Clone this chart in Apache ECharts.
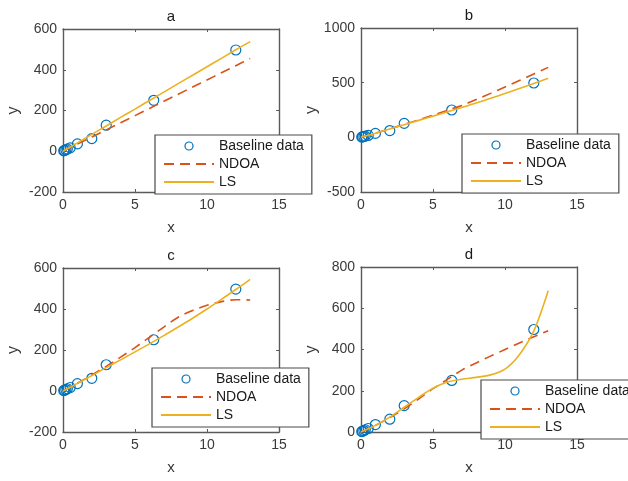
<!DOCTYPE html>
<html>
<head>
<meta charset="utf-8">
<script src="https://cdn.jsdelivr.net/npm/echarts@6/dist/echarts.min.js"></script>
<style>
  html, body { margin: 0; padding: 0; background: #ffffff; }
  #chart { width: 628px; height: 481px; }
</style>
</head>
<body>
<div id="chart"></div>
<script>
// Baseline measurements (same in all four panels)
const baseX = [0.05, 0.1, 0.2, 0.3, 0.5, 1, 2, 3, 6.3, 12];
const baseY = [2, 4, 7, 11, 17, 36, 62, 128, 250, 497];

// x positions at which the fitted curves are sampled
const fitX = [0, 1, 2, 3, 4, 5, 6, 7, 8, 9, 10, 11, 12, 13];

// Panel a
const ndoaA = [0, 35, 70, 105, 140, 175, 210, 245, 280, 315, 350, 385, 420, 455];
const lsA   = [0, 41, 83, 124, 166, 207, 249, 290, 332, 373, 415, 456, 498, 538];
// Panel b
const ndoaB = [0, 38, 78, 118, 160, 203, 247, 292, 345, 402, 460, 520, 580, 640];
const lsB   = [0, 38, 77, 116, 155, 194, 233, 272, 314, 357, 401, 446, 493, 540];
// Panel c
const ndoaC = [0, 38, 78, 120, 165, 212, 262, 312, 360, 393, 418, 436, 445, 444];
const lsC   = [0, 37, 75, 114, 152, 191, 230, 270, 312, 355, 400, 447, 495, 545];
// Panel d
const ndoaD = [0, 32, 70, 112, 160, 210, 255, 300, 335, 368, 400, 432, 462, 491];
const lsD   = [0, 32, 72, 120, 168, 212, 242, 256, 265, 277, 305, 375, 490, 685];

const panelTitles = ['a', 'b', 'c', 'd'];
const yMins = [-200, -500, -200, 0];
const yMaxs = [600, 1000, 600, 800];
const yIntervals = [200, 500, 200, 200];
const xMin = 0, xMax = 15, xInterval = 5;

const ndoaSets = [ndoaA, ndoaB, ndoaC, ndoaD];
const lsSets = [lsA, lsB, lsC, lsD];

const FONT = '"Liberation Sans", Arial, Helvetica, sans-serif';
const AXIS_COLOR = '#5a5a5a';
const TEXT_COLOR = '#3a3a3a';

const grids = [
  { left: 63,  top: 29,  width: 216, height: 163 },
  { left: 361, top: 28,  width: 216, height: 164 },
  { left: 63,  top: 268, width: 216, height: 164 },
  { left: 361, top: 267, width: 216, height: 165 }
];
const legendPos = [
  { left: 155, top: 135 },
  { left: 462, top: 134 },
  { left: 152, top: 368 },
  { left: 481, top: 380 }
];

const pairs = (xs, ys) => xs.map((x, i) => [x, ys[i]]);

const axisLineStyle = { show: true, onZero: false, lineStyle: { color: AXIS_COLOR, width: 1.4 } };
const tickStyle = { show: true, inside: true, length: 3, lineStyle: { color: AXIS_COLOR, width: 1 } };
const plainNumber = v => String(v);

const xAxes = [], yAxes = [], series = [], legends = [];

grids.forEach((g, i) => {
  // bottom x axis with tick labels and name
  xAxes.push({
    type: 'value', gridIndex: i, position: 'bottom',
    min: xMin, max: xMax, interval: xInterval,
    axisLine: axisLineStyle, axisTick: tickStyle, splitLine: { show: false },
    axisLabel: { fontSize: 14, color: TEXT_COLOR, fontFamily: FONT, margin: 6,
                 showMinLabel: true, showMaxLabel: true, formatter: plainNumber },
    name: 'x', nameLocation: 'middle', nameGap: 28,
    nameTextStyle: { fontSize: 15, color: TEXT_COLOR, fontFamily: FONT }
  });
  // top x axis: box edge with ticks, carries the panel title
  xAxes.push({
    type: 'value', gridIndex: i, position: 'top',
    min: xMin, max: xMax, interval: xInterval,
    axisLine: axisLineStyle, axisTick: tickStyle, splitLine: { show: false },
    axisLabel: { show: false },
    name: panelTitles[i], nameLocation: 'middle', nameGap: 5,
    nameTextStyle: { fontSize: 15, color: '#1a1a1a', fontFamily: FONT }
  });
  // left y axis
  yAxes.push({
    type: 'value', gridIndex: i, position: 'left',
    min: yMins[i], max: yMaxs[i], interval: yIntervals[i],
    axisLine: axisLineStyle, axisTick: tickStyle, splitLine: { show: false },
    axisLabel: { fontSize: 14, color: TEXT_COLOR, fontFamily: FONT, margin: 6,
                 showMinLabel: true, showMaxLabel: true, formatter: plainNumber },
    name: 'y', nameLocation: 'middle', nameGap: 41,
    nameTextStyle: { fontSize: 16, color: TEXT_COLOR, fontFamily: FONT }
  });
  // right y axis: box edge with ticks
  yAxes.push({
    type: 'value', gridIndex: i, position: 'right',
    min: yMins[i], max: yMaxs[i], interval: yIntervals[i],
    axisLine: axisLineStyle, axisTick: tickStyle, splitLine: { show: false },
    axisLabel: { show: false }
  });

  // hollow circle markers, no connecting line
  series.push({
    name: 'Baseline data', type: 'line',
    xAxisIndex: 2 * i, yAxisIndex: 2 * i,
    data: pairs(baseX, baseY),
    symbol: 'circle', symbolSize: 10,
    itemStyle: { color: 'rgba(255,255,255,0)', borderColor: '#0072BD', borderWidth: 1.2 },
    lineStyle: { width: 0, opacity: 0 },
    animation: false, z: 2
  });
  series.push({
    name: 'NDOA', type: 'line',
    xAxisIndex: 2 * i, yAxisIndex: 2 * i,
    data: pairs(fitX, ndoaSets[i]),
    symbol: 'none', smooth: 0.3,
    itemStyle: { color: '#D95319' },
    lineStyle: { color: '#D95319', width: 1.6, type: [10, 6] },
    animation: false, z: 3
  });
  series.push({
    name: 'LS', type: 'line',
    xAxisIndex: 2 * i, yAxisIndex: 2 * i,
    data: pairs(fitX, lsSets[i]),
    symbol: 'none', smooth: 0.3,
    itemStyle: { color: '#EDB120' },
    lineStyle: { color: '#EDB120', width: 1.6 },
    animation: false, z: 4
  });

  legends.push({
    orient: 'vertical', left: legendPos[i].left, top: legendPos[i].top,
    data: [
      { name: 'Baseline data', itemStyle: { borderWidth: 1.2, borderColor: '#0072BD', color: 'rgba(255,255,255,0)' } },
      { name: 'NDOA', itemStyle: { opacity: 0 } },
      { name: 'LS', itemStyle: { opacity: 0 } }
    ],
    itemWidth: 50, itemHeight: 10, itemGap: 4,
    padding: [4, 8, 5, 8],
    backgroundColor: '#ffffff', borderColor: '#4a4a4a', borderWidth: 1.2, borderRadius: 0,
    textStyle: { fontSize: 14, color: '#1a1a1a', fontFamily: FONT },
    selectedMode: false, z: 10
  });
});

const chart = echarts.init(document.getElementById('chart'), null, { renderer: 'canvas' });
chart.setOption({
  animation: false,
  backgroundColor: '#ffffff',
  grid: grids,
  xAxis: xAxes,
  yAxis: yAxes,
  legend: legends,
  series: series
});
</script>
</body>
</html>
